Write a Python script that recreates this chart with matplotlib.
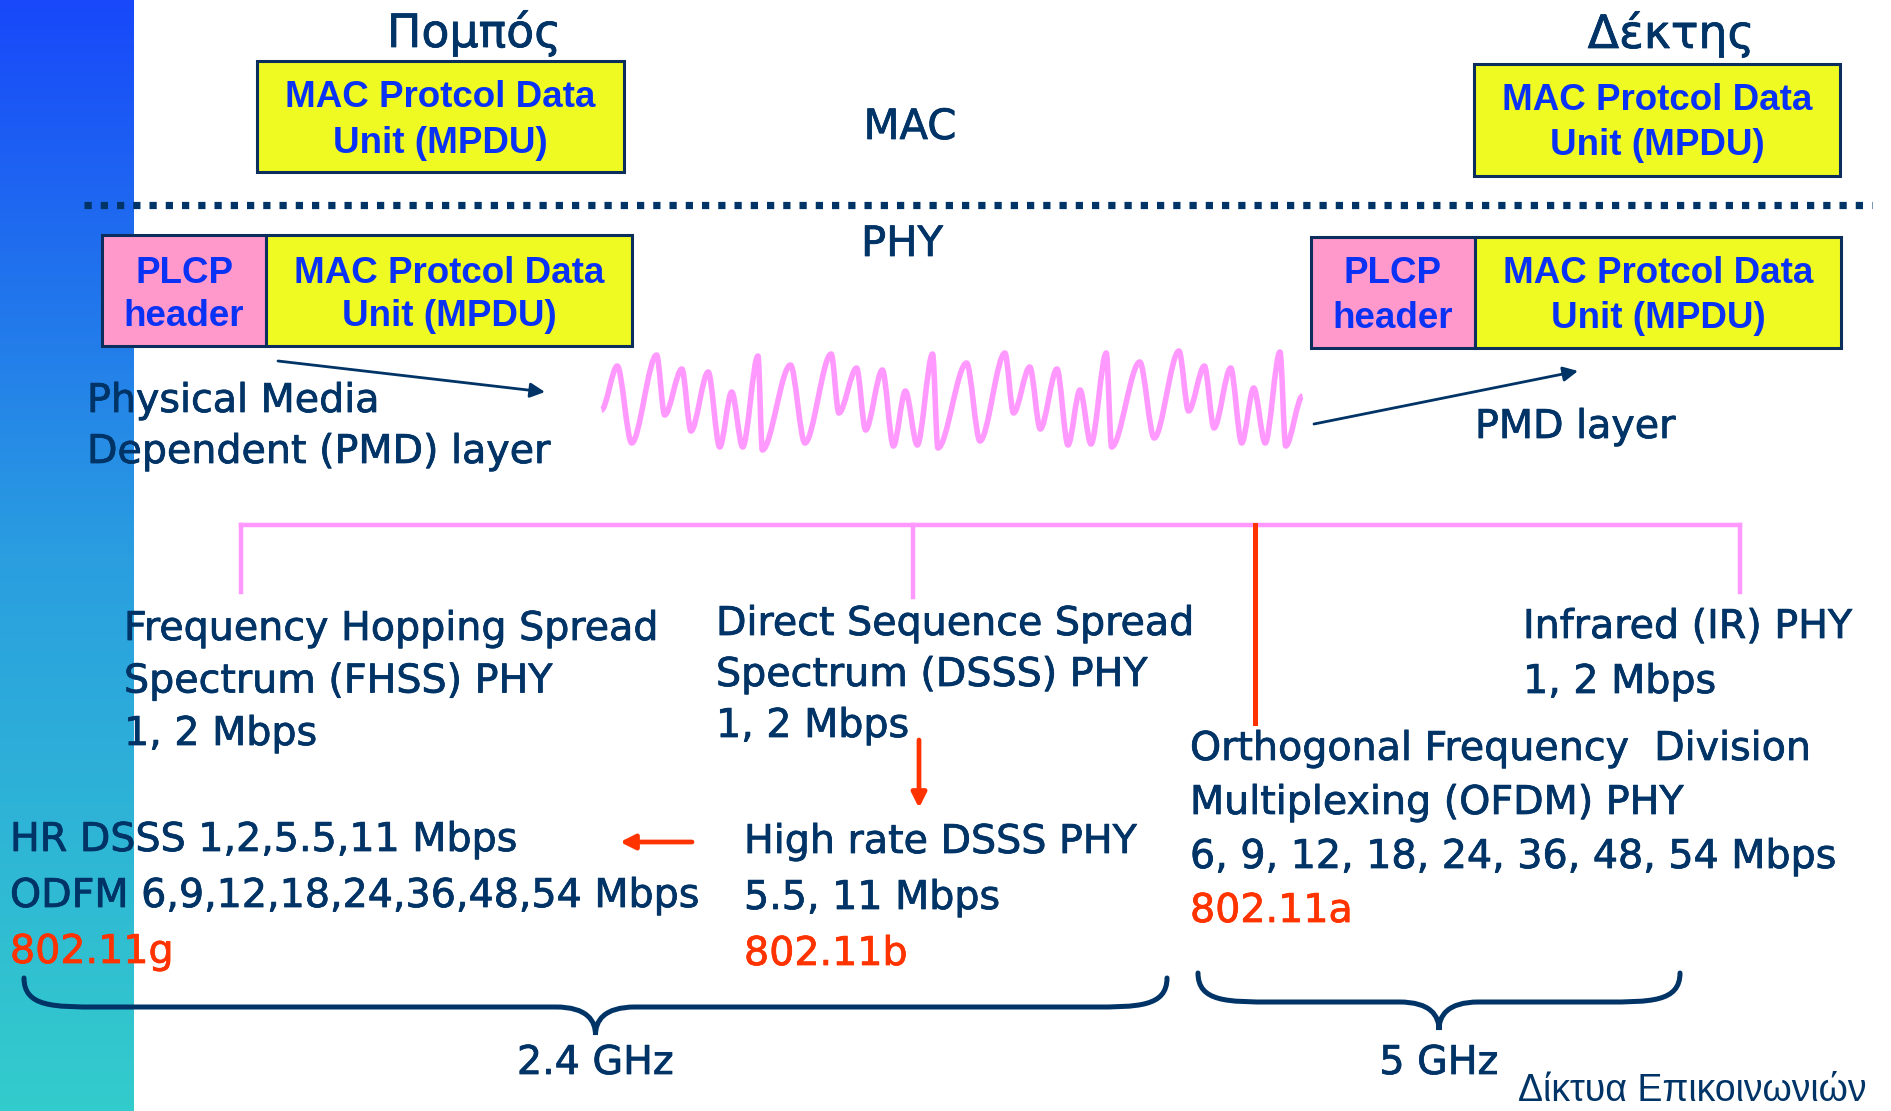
import numpy as np
import matplotlib.pyplot as plt
import matplotlib.patheffects as pe
from matplotlib.path import Path
from matplotlib.patches import PathPatch, Rectangle
from matplotlib.colors import LinearSegmentedColormap

W, H = 1891, 1111
NAVY = '#003366'
BLUE_TXT = '#0a32f5'
RED = '#ff3300'
PINK = '#ff99ff'
YELLOW = '#eefa22'
PLCP_PINK = '#ff99cc'
HAND = ['DejaVu Sans']
ARIAL = ['Liberation Sans']

# transmitter / receiver headings
titles = ['Πομπός', 'Δέκτης']
title_x = [474, 1671]
title_y = [47, 48]

# MPDU boxes in the MAC layer (left, top, right, bottom)
mac_boxes = [(257, 61, 624, 172), (1474, 64, 1840, 176)]
mac_text_y = [(107, 153), (110, 155)]
mpdu_lines = ['MAC Protcol Data', 'Unit (MPDU)']

# PHY frames: PLCP header + MPDU
phy_frames = [(102, 235, 266, 632, 346), (1311, 237, 1475, 1841, 348)]
phy_text_y = [(283, 326), (283, 328)]
plcp_lines = ['PLCP', 'header']

# layer labels
layer_labels = ['MAC', 'PHY']
layer_x = [910, 902]
layer_y = [139, 256]

# radio wave, peaks and troughs
wave_x = [601.5, 617.3, 631.7, 656.6, 664.7, 681.9, 691.0, 708.2, 719.7, 731.7,
          742.7, 758.0, 762.3, 790.5, 804.9, 831.2, 838.9, 856.6, 865.6, 882.4,
          893.4, 905.4, 917.3, 932.6, 937.9, 966.6, 980.0, 1004.9, 1013.5, 1029.8,
          1040.3, 1057.0, 1068.0, 1080.0, 1091.0, 1106.3, 1111.6, 1139.8, 1154.2, 1179.0,
          1188.6, 1204.4, 1214.0, 1230.7, 1241.7, 1253.7, 1265.2, 1280.0, 1285.7, 1302.5]
wave_y = [410, 366, 443, 355, 415, 369, 431, 372, 447, 392,
          447, 356, 450, 365, 443, 354, 413, 368, 430, 370,
          446, 391, 445, 354, 448, 363, 441, 353, 413, 367,
          429, 369, 445, 390, 444, 353, 447, 362, 438, 351,
          411, 366, 428, 368, 443, 388, 443, 352, 446, 396]

# tree of PHY types
tree_y = 525
tree_branch_x = [241, 913, 1740]
tree_branch_end = [592, 597, 592]
ofdm_branch = (1255, 723)

# text blocks: lines, x, first baseline, line gap, colour of last line
blocks = [
    (['Physical Media', 'Dependent (PMD) layer'], 87, 412, 51, None),
    (['PMD layer'], 1475, 438, 0, None),
    (['Frequency Hopping Spread', 'Spectrum (FHSS) PHY', '1, 2 Mbps'], 124, 640, 52.5, None),
    (['Direct Sequence Spread', 'Spectrum (DSSS) PHY', '1, 2 Mbps'], 716, 635, 51, None),
    (['Infrared (IR) PHY', '1, 2 Mbps'], 1523, 638, 55, None),
    (['Orthogonal Frequency  Division', 'Multiplexing (OFDM) PHY',
      '6, 9, 12, 18, 24, 36, 48, 54 Mbps', '802.11a'], 1190, 760, 54, RED),
    (['High rate DSSS PHY', '5.5, 11 Mbps', '802.11b'], 744, 853, 56, RED),
    (['HR DSSS 1,2,5.5,11 Mbps', 'ODFM 6,9,12,18,24,36,48,54 Mbps', '802.11g'], 10, 851, 56, RED),
]

# arrows (start, end, colour)
arrows = [((278, 361), (545, 392), NAVY), ((1314, 424), (1578, 371), NAVY),
          ((919, 740), (919, 808), RED), ((692, 842), (620, 842), RED)]

# frequency bands: left end, right end, top y, band label
bands = [(24, 1167, 978, '2.4 GHz'), (1198, 1680, 973, '5 GHz')]
band_label_y = 1074

fig = plt.figure(figsize=(W / 100, H / 100), dpi=100)
ax = fig.add_axes([0, 0, 1, 1])
ax.set_xlim(0, W)
ax.set_ylim(H, 0)
ax.axis('off')

# slide side bar gradient
cmap = LinearSegmentedColormap.from_list('bar', ['#1848fa', '#2a9ee0', '#33cccc'])
ax.imshow(np.linspace(0, 1, 256).reshape(-1, 1), cmap=cmap, aspect='auto',
          extent=[0, 134, H, 0], zorder=0)


def hand_text(x, y, s, col=NAVY, size=28.5, **kw):
    # slightly heavier strokes to mimic the comic font of the slide
    ax.text(x, y, s, va='baseline', fontsize=size, color=col, family=HAND, zorder=4,
            path_effects=[pe.withStroke(linewidth=0.55, foreground=col)], **kw)


for t, x, y in zip(titles, title_x, title_y):
    hand_text(x, y, t, size=33, ha='center')

for lab, x, y in zip(layer_labels, layer_x, layer_y):
    hand_text(x, y, lab, size=30, ha='center')

box_kw = dict(edgecolor='#0b2e5c', linewidth=2.2, zorder=2)
txt_kw = dict(ha='center', va='baseline', fontsize=26.5, color=BLUE_TXT,
              fontweight='bold', family=ARIAL, zorder=3)
for (l, t, r, b), ys in zip(mac_boxes, mac_text_y):
    ax.add_patch(Rectangle((l, t), r - l, b - t, facecolor=YELLOW, **box_kw))
    for line, y in zip(mpdu_lines, ys):
        ax.text((l + r) / 2, y, line, **txt_kw)

for (l, t, m, r, b), ys in zip(phy_frames, phy_text_y):
    ax.add_patch(Rectangle((l, t), m - l, b - t, facecolor=PLCP_PINK, **box_kw))
    ax.add_patch(Rectangle((m, t), r - m, b - t, facecolor=YELLOW, **box_kw))
    for line, y in zip(plcp_lines, ys):
        ax.text((l + m) / 2, y, line, **txt_kw)
    for line, y in zip(mpdu_lines, ys):
        ax.text((m + r) / 2, y, line, **txt_kw)

# MAC / PHY separator
ax.plot([84, 1872], [205, 205], color=NAVY, lw=5.2, linestyle=(0, (1.0, 1.25)),
        dash_capstyle='butt')

# wave drawn as smooth bezier segments between extrema
verts = [(wave_x[0], wave_y[0])]
codes = [Path.MOVETO]
for i in range(1, len(wave_x)):
    x0, y0 = wave_x[i - 1], wave_y[i - 1]
    x1, y1 = wave_x[i], wave_y[i]
    dx = (x1 - x0) * 0.32
    verts += [(x0 + dx, y0), (x1 - dx, y1), (x1, y1)]
    codes += [Path.CURVE4] * 3
ax.add_patch(PathPatch(Path(verts, codes), facecolor='none', edgecolor=PINK,
                       lw=4.0, capstyle='butt', joinstyle='round'))

# tree of PHY types
ax.plot([tree_branch_x[0], tree_branch_x[-1]], [tree_y, tree_y], color=PINK, lw=3.2)
for x, yb in zip(tree_branch_x, tree_branch_end):
    ax.plot([x, x], [tree_y, yb], color=PINK, lw=3.2)
ax.plot([ofdm_branch[0], ofdm_branch[0]], [tree_y, ofdm_branch[1]], color=RED, lw=3.6)

for lines, x, y0, gap, last_col in blocks:
    for i, line in enumerate(lines):
        col = last_col if (last_col and i == len(lines) - 1) else NAVY
        hand_text(x, y0 + i * gap, line, col=col, ha='left')

for (x0, y0), (x1, y1), col in arrows:
    lw = 2.0 if col == NAVY else 3.4
    ax.annotate('', xy=(x1, y1), xytext=(x0, y0),
                arrowprops=dict(arrowstyle='-|>', color=col, lw=lw,
                                mutation_scale=22, shrinkA=0, shrinkB=0))

# curly braces under the 2.4 GHz and 5 GHz groups
for left, right, top, label in bands:
    mid = (left + right) / 2
    flat = top + 29
    tip = top + 57
    c = 75
    verts = [(left, top), (left, flat), (left + c * 0.4, flat), (left + c, flat),
             (mid - 40, flat),
             (mid - 8, flat), (mid, tip - 14), (mid, tip),
             (mid, tip - 14), (mid + 8, flat), (mid + 40, flat),
             (right - c, flat),
             (right - c * 0.4, flat), (right, flat), (right, top)]
    codes = ([Path.MOVETO] + [Path.CURVE4] * 3 + [Path.LINETO] + [Path.CURVE4] * 6
             + [Path.LINETO] + [Path.CURVE4] * 3)
    ax.add_patch(PathPatch(Path(verts, codes), facecolor='none', edgecolor=NAVY,
                           lw=3.6, capstyle='round'))
    hand_text(mid, band_label_y, label, ha='center')

ax.text(1866, 1101, 'Δίκτυα Επικοινωνιών', ha='right', va='baseline', fontsize=27,
        color=NAVY, family=ARIAL)

fig.savefig('out.png', dpi=100)
